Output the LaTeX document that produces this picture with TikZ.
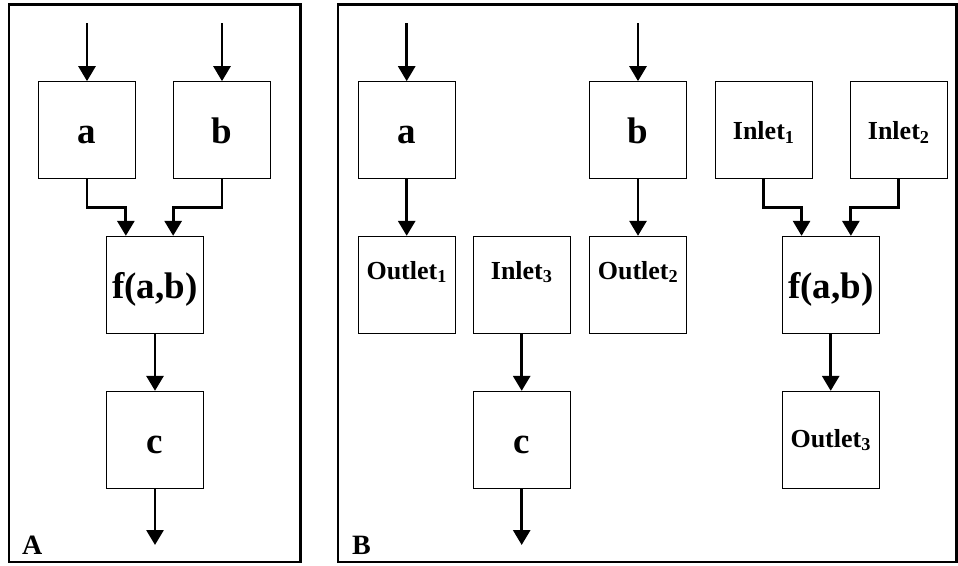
\documentclass[tikz,border=0pt]{standalone}
\usepackage{fontspec}
\setmainfont{Liberation Serif}
\usetikzlibrary{arrows.meta}
\begin{document}
\begin{tikzpicture}[x=1pt,y=-1pt,
  frame/.style={draw, line width=2.7pt},
  blk/.style={draw, line width=1.3pt, minimum width=97pt, minimum height=97pt,
    inner sep=0pt, text height=26pt, text depth=0pt,
    font=\fontsize{37}{40}\selectfont\bfseries},
  port/.style={blk, text height=18pt, text depth=0pt,
    font=\fontsize{26}{28}\selectfont\bfseries},
  porthigh/.style={port, text height=14pt, text depth=26pt},
  flow/.style={line width=2.8pt, -{Triangle[length=15pt,width=17pt]}},
  tag/.style={anchor=base west, inner sep=0pt,
    font=\fontsize{28}{30}\selectfont\bfseries}]

\useasboundingbox (0,0) rectangle (958,565);

% panel frames
\draw[frame] (9,4.5) rectangle (300.5,562);
\draw[frame] (338,4.5) rectangle (956.8,562);
\node[tag] (tagA) at (22,554) {A};
\node[tag] (tagB) at (352,554) {B};

% ---- panel A: single program ----
\node[blk] (Aa) at (87,130.3) {a};
\node[blk] (Ab) at (222,130.3) {b};
\node[blk] (Af) at (155,285) {f(a,b)};
\node[blk] (Ac) at (155,440) {c};
\coordinate (Aain) at (87,23);
\coordinate (Abin) at (222,23);
\coordinate (Acout) at (155,545);

\draw[flow] (Aain) -- (Aa.north);
\draw[flow] (Abin) -- (Ab.north);
\draw[flow] (Aa.south) -- ++(0,27.7) -| ([xshift=20pt]Af.north west);
\draw[flow] (Ab.south) -- ++(0,27.7) -| ([xshift=-31pt]Af.north east);
\draw[flow] (Af.south) -- (Ac.north);
\draw[flow] (Ac.south) -- (Acout);

% ---- panel B: split into pieces ----
\node[blk] (Ba) at (406.7,130.3) {a};
\node[blk] (Bb) at (638,130.3) {b};
\node[port] (Bin1) at (763.7,130.3) {Inlet\textsubscript{1}};
\node[port] (Bin2) at (898.7,130.3) {Inlet\textsubscript{2}};
\node[porthigh] (Bout1) at (406.7,285) {Outlet\textsubscript{1}};
\node[porthigh] (Bin3) at (521.7,285) {Inlet\textsubscript{3}};
\node[porthigh] (Bout2) at (638,285) {Outlet\textsubscript{2}};
\node[blk] (Bf) at (830.7,285) {f(a,b)};
\node[blk] (Bc) at (521.7,440) {c};
\node[port, text height=17pt, text depth=3pt] (Bout3) at (830.7,440) {Outlet\textsubscript{3}};
\coordinate (Bain) at (406.7,23);
\coordinate (Bbin) at (638,23);
\coordinate (Bcout) at (521.7,545);

\draw[flow] (Bain) -- (Ba.north);
\draw[flow] (Ba.south) -- (Bout1.north);
\draw[flow] (Bbin) -- (Bb.north);
\draw[flow] (Bb.south) -- (Bout2.north);
\draw[flow] (Bin1.south) -- ++(0,27.7) -| ([xshift=20pt]Bf.north west);
\draw[flow] (Bin2.south) -- ++(0,27.7) -| ([xshift=-29pt]Bf.north east);
\draw[flow] (Bin3.south) -- (Bc.north);
\draw[flow] (Bc.south) -- (Bcout);
\draw[flow] (Bf.south) -- (Bout3.north);
\end{tikzpicture}
\end{document}
